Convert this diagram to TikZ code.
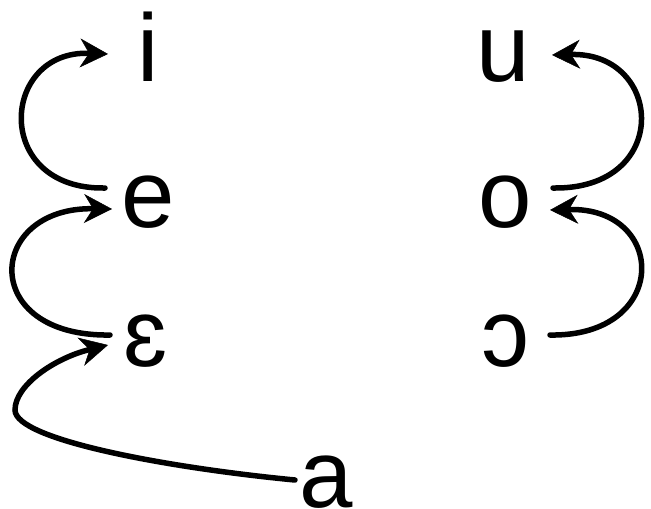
\documentclass[tikz,border=0pt]{standalone}
\usepackage{fontspec}
\setmainfont{Liberation Sans}
\usetikzlibrary{arrows.meta}
\begin{document}
\begin{tikzpicture}[x=1pt,y=-1pt,
  vowel/.style={inner sep=0pt, anchor=base, font=\fontsize{96}{110}\selectfont},
  arr/.style={line width=5.5pt, line cap=round,
    -{Stealth[length=28pt,width=29pt,inset=9pt,line width=0.5pt]}}]
\useasboundingbox (0,0) rectangle (651,509);
\node[vowel] (i) at (148,81) {i};
\node[vowel] (e) at (148,227) {e};
\node[vowel] (eps) at (146,366) {ɛ};
\node[vowel] (a) at (326,507) {a};
\node[vowel] (u) at (503,81) {u};
\node[vowel] (o) at (505,227) {o};
\node[vowel] (openo) at (505,366) {ɔ};
% e -> i
\draw[arr] ([shift={(-43,-39)}]e.base) .. controls (-8,190) and (0,50) .. ([shift={(-40,-27)}]i.base);
% eps -> e
\draw[arr] ([shift={(-36,-31)}]eps.base) .. controls (-22,337) and (-14,207) .. ([shift={(-36,-18)}]e.base);
% a -> eps
\draw[arr] ([shift={(-31,-27)}]a.base) .. controls (170,468) and (15,440) .. (15,410)
  .. controls (15,385) and (55,358) .. ([shift={(-38,-21)}]eps.base);
% o -> u
\draw[arr] ([shift={(48,-39)}]o.base) .. controls (672,190) and (664,52) .. ([shift={(49,-26)}]u.base);
% openo -> o
\draw[arr] ([shift={(45,-31)}]openo.base) .. controls (670,337) and (668,207) .. ([shift={(45,-17)}]o.base);
\end{tikzpicture}
\end{document}
